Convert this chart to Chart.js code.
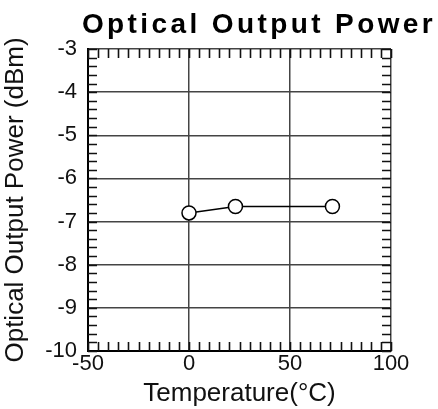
<!DOCTYPE html>
<html>
<head>
<meta charset="UTF-8">
<title>Optical Output Power</title>
<script src="https://cdn.jsdelivr.net/npm/chart.js"></script>
<style>
  body { margin: 0; background: #fff; }
  #wrap { width: 438px; height: 409px; }
</style>
</head>
<body>
<div id="wrap"><canvas id="powerChart" width="438" height="409"></canvas></div>
<script>
// measured points
const temps = [0, 23, 71];            // °C
const power = [-6.8, -6.65, -6.65];   // dBm

const xTicks = [-50, 0, 50, 100];
const yTicks = [-10, -9, -8, -7, -6, -5, -4, -3];

const FONT = '"Liberation Sans", Arial, sans-serif';

// small inward ticks on all four sides of the frame
const minorTicks = {
  id: 'minorTicks',
  beforeDatasetsDraw(chart) {
    const { ctx, chartArea: a, scales: { x, y } } = chart;
    const len = 9;
    ctx.save();
    ctx.strokeStyle = '#111';
    ctx.lineWidth = 1.6;
    ctx.beginPath();
    for (let v = -50; v <= 100; v += 5) {
      const px = Math.round(x.getPixelForValue(v)) + 0.5;
      ctx.moveTo(px, a.bottom); ctx.lineTo(px, a.bottom - len);
      ctx.moveTo(px, a.top); ctx.lineTo(px, a.top + len);
    }
    for (let i = 0; i <= 35; i++) {
      const py = Math.round(y.getPixelForValue(-10 + i * 0.2)) + 0.5;
      ctx.moveTo(a.left, py); ctx.lineTo(a.left + len, py);
      ctx.moveTo(a.right, py); ctx.lineTo(a.right - len, py);
    }
    ctx.stroke();
    ctx.restore();
  }
};

// spaced-out bold heading
const heading = {
  id: 'heading',
  afterDraw(chart) {
    const ctx = chart.ctx;
    ctx.save();
    ctx.font = 'bold 28px ' + FONT;
    ctx.letterSpacing = '3.4px';
    ctx.fillStyle = '#000';
    ctx.textAlign = 'center';
    ctx.textBaseline = 'alphabetic';
    ctx.fillText('Optical Output Power', 259, 33);
    ctx.restore();
  }
};

new Chart(document.getElementById('powerChart'), {
  type: 'scatter',
  data: {
    datasets: [{
      data: temps.map((t, i) => ({ x: t, y: power[i] })),
      showLine: true,
      borderColor: '#000',
      borderWidth: 1.5,
      pointRadius: 7,
      pointBackgroundColor: '#fff',
      pointBorderColor: '#000',
      pointBorderWidth: 1.5
    }]
  },
  options: {
    responsive: false,
    animation: false,
    layout: { padding: { top: 49, right: 47, left: 0, bottom: 0 } },
    plugins: { legend: { display: false }, tooltip: { enabled: false } },
    scales: {
      x: {
        type: 'linear',
        min: -50, max: 100,
        afterBuildTicks: s => { s.ticks = xTicks.map(v => ({ value: v })); },
        afterFit: s => { s.height = 58; },
        ticks: { color: '#111', font: { family: FONT, size: 22 }, padding: 0 },
        grid: { color: '#444', lineWidth: 1.5, drawTicks: false },
        border: { color: '#000', width: 2 },
        title: { display: true, text: 'Temperature(°C)', color: '#111', font: { family: FONT, size: 26 }, padding: 0 }
      },
      y: {
        min: -10, max: -3,
        afterBuildTicks: s => { s.ticks = yTicks.map(v => ({ value: v })); },
        afterFit: s => { s.width = 88; },
        ticks: { color: '#111', font: { family: FONT, size: 22 }, padding: 11 },
        grid: { color: '#444', lineWidth: 1.5, drawTicks: false },
        border: { color: '#000', width: 2 },
        title: { display: true, text: 'Optical Output Power (dBm)', color: '#111', font: { family: FONT, size: 26 }, padding: 0 }
      }
    }
  },
  plugins: [minorTicks, heading]
});
</script>
</body>
</html>
